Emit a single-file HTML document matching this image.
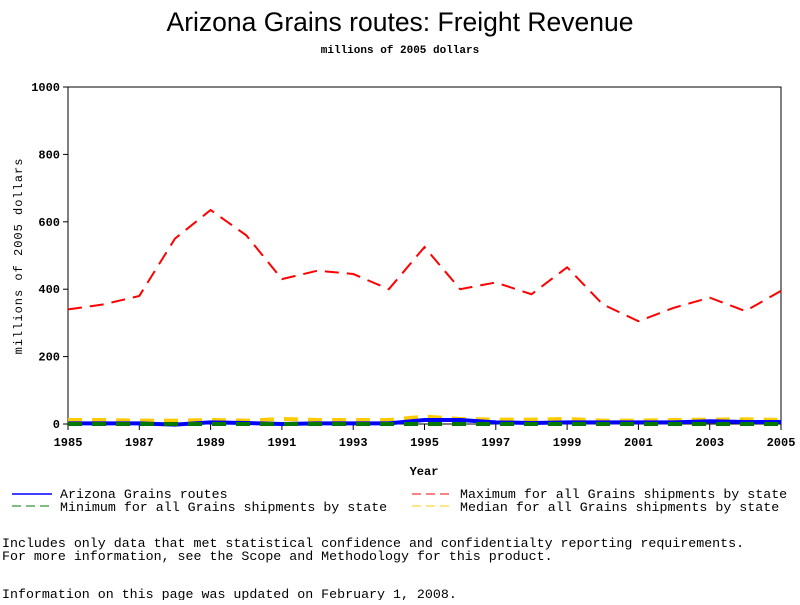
<!DOCTYPE html>
<html><head><meta charset="utf-8"><style>
body{margin:0;background:#fff;width:800px;height:600px;overflow:hidden}
svg text{font-family:"Liberation Mono",monospace;fill:#000}
</style></head><body>
<svg width="800" height="600" id="c">
<text x="400" y="31" text-anchor="middle" style="font-family:'Liberation Sans',sans-serif;font-size:26.5px">Arizona Grains routes: Freight Revenue</text>
<text x="400" y="53" text-anchor="middle" style="font-size:11px;font-weight:bold">millions of 2005 dollars</text>
<rect x="68" y="87" width="713" height="337" fill="none" stroke="#000"/>
<text transform="translate(22,256) rotate(-90)" text-anchor="middle" style="font-size:12px;letter-spacing:1px">millions of 2005 dollars</text>
<text x="424" y="475" text-anchor="middle" style="font-size:12px;font-weight:bold">Year</text>
<g id="ax"></g><g id="series"></g>
<g style="font-size:13.3px">
<line x1="12" y1="494" x2="52" y2="494" stroke="#00f" stroke-width="1.5"/>
<text x="60" y="498">Arizona Grains routes</text>
<line x1="12" y1="506" x2="52" y2="506" stroke="#070" stroke-dasharray="9,5"/>
<text x="60" y="511">Minimum for all Grains shipments by state</text>
<line x1="412" y1="494" x2="452" y2="494" stroke="#f00" stroke-dasharray="9,5"/>
<text x="460" y="498">Maximum for all Grains shipments by state</text>
<line x1="412" y1="506" x2="452" y2="506" stroke="#fc0" stroke-dasharray="9,5"/>
<text x="460" y="511">Median for all Grains shipments by state</text>
</g>
<g style="font-size:13.3px">
<text x="2" y="547">Includes only data that met statistical confidence and confidentialty reporting requirements.</text>
<text x="2" y="560">For more information, see the Scope and Methodology for this product.</text>
<text x="2" y="598">Information on this page was updated on February 1, 2008.</text>
</g>
</svg>
<script>
const years=[1985,1986,1987,1988,1989,1990,1991,1992,1993,1994,1995,1996,1997,1998,1999,2000,2001,2002,2003,2004,2005];
const maxVals=[340,355,380,550,635,560,430,455,445,400,525,400,420,385,465,355,305,345,375,335,395];
const medianVals=[12,12,10,10,12,10,15,12,12,12,22,15,13,13,15,10,10,12,13,14,12];
const azVals=[2,2,2,-2,5,3,0,2,2,2,12,12,5,3,5,5,5,5,8,6,6];
const minVals=[0,0,0,0,0,0,0,0,0,0,0,0,0,0,0,0,0,0,0,0,0];
const yTicks=[0,200,400,600,800,1000];
const xTicks=[1985,1987,1989,1991,1993,1995,1997,1999,2001,2003,2005];
const NS="http://www.w3.org/2000/svg";
const X=v=>68+(v-1985)*(713/20), Y=v=>424-v*0.337;
const ax=document.getElementById('ax'), sg=document.getElementById('series');
function mk(t,a,p){const e=document.createElementNS(NS,t);for(const k in a)e.setAttribute(k,a[k]);p.appendChild(e);return e;}
yTicks.forEach(v=>{
 const l=mk('line',{x1:63,x2:68,y1:Y(v),y2:Y(v),stroke:'#000'},ax);
 
 
 const t=mk('text',{x:60,y:Y(v)+4,'text-anchor':'end','font-size':'12','font-weight':'bold'},ax);t.textContent=v;
 
 
});
xTicks.forEach(v=>{
 const l=mk('line',{x1:X(v),x2:X(v),y1:424,y2:430,stroke:'#000'},ax);
 
 
 const t=mk('text',{x:X(v),y:446,'text-anchor':'middle','font-size':'12','font-weight':'bold'},ax);t.textContent=v;
 
 
});
function line(vals,color,dash,w,name){
 const p=mk('polyline',{points:vals.map((v,i)=>X(years[i])+','+Y(v)).join(' '),fill:'none',stroke:color,'stroke-width':w,'stroke-dasharray':dash},sg);
 
 
}
line(medianVals,'#fc0','14,10',4,'median-line');
line(azVals,'#00f','none',4,'arizona-line');
line(minVals,'#070','14,10',4,'minimum-line');
line(maxVals,'#f00','14,8',2,'maximum-line');
</script>
</body></html>
